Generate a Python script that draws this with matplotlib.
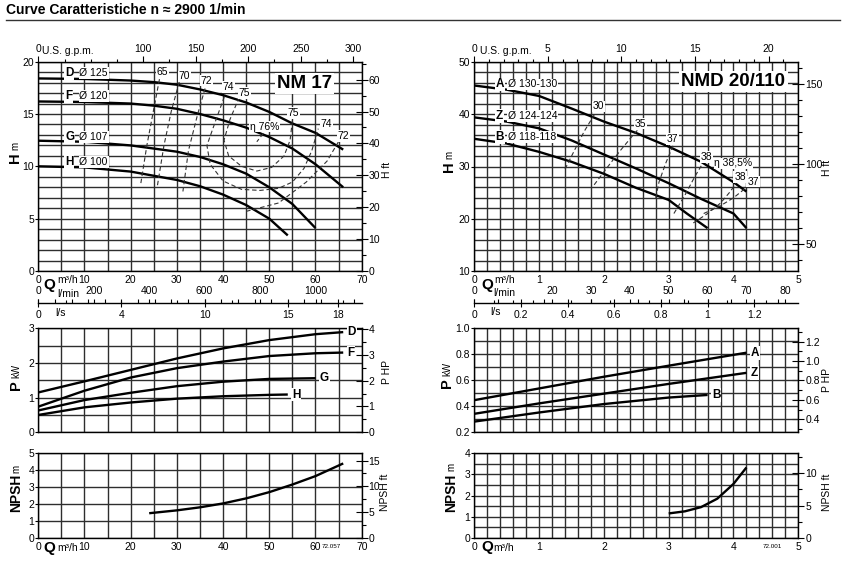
import numpy as np
import matplotlib.pyplot as plt
from matplotlib.ticker import MultipleLocator, FixedLocator

plt.rcParams['font.family'] = ['Liberation Sans', 'DejaVu Sans']
plt.rcParams['font.size'] = 7.5

W, H = 844, 564
GPM = 4.4029      # US gpm per m3/h
FT = 3.2808       # ft per m
HP = 1.341        # HP per kW

# ---------------- NM 17 (left) ----------------
nm_heads = ['D', 'F', 'G', 'H']
nm_diam = ['Ø 125', 'Ø 120', 'Ø 107', 'Ø 100']
nm_q = {
    'D': [0, 10, 20, 25, 30, 35, 40, 45, 50, 55, 60, 66],
    'F': [0, 10, 20, 25, 30, 35, 40, 45, 50, 55, 60, 66],
    'G': [0, 10, 20, 30, 35, 40, 45, 50, 55, 60],
    'H': [0, 10, 20, 30, 35, 40, 45, 50, 54],
}
nm_h = {
    'D': [18.4, 18.35, 18.2, 18.05, 17.8, 17.35, 16.8, 16.1, 15.2, 14.1, 13.2, 11.6],
    'F': [16.2, 16.15, 16.0, 15.8, 15.5, 15.0, 14.4, 13.7, 12.8, 11.7, 10.2, 8.0],
    'G': [12.45, 12.35, 12.0, 11.4, 10.9, 10.2, 9.3, 8.0, 6.4, 4.1],
    'H': [10.0, 9.9, 9.5, 8.7, 8.1, 7.3, 6.3, 5.0, 3.4],
}
nm_pq = {
    'D': [0, 10, 20, 30, 40, 50, 60, 66],
    'F': [0, 10, 20, 30, 40, 50, 60, 66],
    'G': [0, 10, 20, 30, 40, 50, 60],
    'H': [0, 10, 20, 30, 40, 50, 54],
}
nm_p = {
    'D': [1.15, 1.47, 1.8, 2.13, 2.42, 2.66, 2.83, 2.89],
    'F': [0.74, 1.2, 1.58, 1.85, 2.04, 2.2, 2.28, 2.3],
    'G': [0.63, 0.93, 1.14, 1.33, 1.46, 1.54, 1.56],
    'H': [0.5, 0.72, 0.86, 0.97, 1.04, 1.08, 1.09],
}
nm_npsh_q = [24, 30, 35, 40, 45, 50, 55, 60, 66]
nm_npsh = [1.45, 1.62, 1.8, 2.03, 2.33, 2.7, 3.15, 3.65, 4.4]

# iso-efficiency lines (Q, H)
nm_eta = [
    ([22.2, 23.5, 25.0, 26.3], [8.4, 12.0, 15.5, 18.5]),
    ([25.8, 27.2, 28.8, 30.6], [8.2, 12.0, 15.3, 18.2]),
    ([31.3, 32.5, 34.5, 36.4], [7.6, 11.5, 15.0, 17.9]),
    ([45.0, 52, 58, 62.5, 65.3], [5.7, 6.5, 8.5, 10.5, 12.6]),
    ([40.8, 38.5, 36.5, 37.2, 40, 44, 48, 52, 55, 57.5, 59.2, 60.6],
     [17.3, 14.5, 12.0, 10.2, 8.6, 7.8, 7.7, 7.9, 8.5, 9.8, 11.5, 13.6]),
    ([43.5, 41.5, 40.2, 41.2, 44, 47.3, 50.5, 53.2, 54.5, 55.0],
     [16.6, 14.5, 12.5, 11.0, 10.0, 9.55, 9.9, 11.0, 12.5, 14.4]),
    ([48.7, 47.3], [13.15, 12.35]),
]
nm_eta_labels = [('65', 26.9, 19.0), ('70', 31.6, 18.6), ('72', 36.4, 18.2),
                 ('74', 41.2, 17.6), ('75', 44.6, 17.0), ('η 76%', 49.0, 13.8),
                 ('75', 55.2, 15.1), ('74', 62.4, 14.0), ('72', 66.0, 12.9)]

# ---------------- NMD 20/110 (right) ----------------
nmd_heads = ['A', 'Z', 'B']
nmd_diam = ['Ø 130-130', 'Ø 124-124', 'Ø 118-118']
nmd_q = {
    'A': [0, 0.5, 1.0, 1.5, 2.0, 2.5, 3.0, 3.5, 4.0, 4.2],
    'Z': [0, 0.5, 1.0, 1.5, 2.0, 2.5, 3.0, 3.5, 4.0, 4.2],
    'B': [0, 0.5, 1.0, 1.5, 2.0, 2.5, 3.0, 3.28, 3.6],
}
nmd_h = {
    'A': [45.5, 44.7, 43.5, 41.1, 38.6, 36.4, 33.8, 30.9, 27.0, 25.2],
    'Z': [39.4, 38.6, 37.3, 35.0, 32.3, 29.6, 26.8, 23.8, 21.0, 18.2],
    'B': [35.3, 34.4, 32.8, 30.9, 28.6, 25.9, 23.6, 21.0, 18.2],
}
nmd_pq = {
    'A': [0, 1, 2, 3, 4.2],
    'Z': [0, 1, 2, 3, 4.2],
    'B': [0, 1, 2, 3, 3.6],
}
nmd_p = {
    'A': [0.445, 0.535, 0.625, 0.71, 0.81],
    'Z': [0.34, 0.42, 0.495, 0.57, 0.655],
    'B': [0.28, 0.35, 0.415, 0.465, 0.485],
}
nmd_npsh_q = [3.0, 3.25, 3.5, 3.75, 4.0, 4.2]
nmd_npsh = [1.15, 1.25, 1.45, 1.85, 2.55, 3.33]

nmd_eta = [
    ([1.4, 1.55, 1.7, 1.87], [29.5, 33.2, 36.8, 40.3]),
    ([1.85, 2.05, 2.25, 2.45, 2.58], [26.5, 29.8, 33.0, 36.0, 37.8]),
    ([2.8, 2.85, 2.95, 3.05, 3.1], [24.0, 27.0, 30.5, 33.5, 35.0]),
    ([3.08, 3.25, 3.4, 3.52], [21.0, 24.5, 28.0, 30.5]),
    ([3.38, 3.6, 3.8, 3.95, 4.05], [19.2, 21.0, 23.0, 25.2, 27.0]),
    ([4.0, 4.0], [27.2, 28.6]),
    ([3.54, 3.8, 4.0, 4.18], [21.0, 22.5, 24.0, 25.8]),
]
nmd_eta_labels = [('30', 1.92, 41.5), ('35', 2.56, 38.2), ('37', 3.06, 35.2),
                  ('38', 3.58, 31.8), ('η 38,5%', 4.0, 30.6),
                  ('38', 4.1, 28.0), ('37', 4.3, 27.1)]

fig = plt.figure(figsize=(W / 100, H / 100), dpi=100)
GRID = '#2e2e2e'
CURVE = dict(color='black', lw=1.7, solid_capstyle='butt')
DASH = dict(color='#333333', lw=0.8, ls=(0, (4, 2.5)))
WHITE = dict(facecolor='white', edgecolor='none', pad=0.6)


def rect(x0, y0, x1, y1):
    return [x0 / W, 1 - y1 / H, (x1 - x0) / W, (y1 - y0) / H]


def ptext(x, y, s, **kw):
    fig.text(x / W, 1 - y / H, s, **kw)


def panel(r, xlim, ylim, xgrid, ygrid, xmajor, ymajor):
    ax = fig.add_axes(r)
    ax.set_xlim(xlim)
    ax.set_ylim(ylim)
    ax.xaxis.set_major_locator(FixedLocator(xmajor))
    ax.yaxis.set_major_locator(FixedLocator(ymajor))
    ax.xaxis.set_minor_locator(MultipleLocator(xgrid))
    ax.yaxis.set_minor_locator(MultipleLocator(ygrid))
    ax.grid(which='both', color=GRID, lw=1.0)
    ax.set_axisbelow(True)
    ax.tick_params(which='minor', length=0)
    ax.tick_params(which='major', length=2, width=0.8, pad=1)
    ax.tick_params(axis='x', which='major', length=0, pad=3)
    for s in ax.spines.values():
        s.set_linewidth(1.0)
    return ax


def right_axis(ax, factor, major, minor, labels=None):
    sec = ax.secondary_yaxis('right', functions=(lambda v: v * factor, lambda v: v / factor))
    sec.yaxis.set_major_locator(FixedLocator(major))
    sec.yaxis.set_minor_locator(FixedLocator(minor))
    if labels is not None:
        sec.set_yticklabels(labels)
    sec.tick_params(which='major', direction='inout', length=8, width=0.8, pad=1)
    sec.tick_params(which='minor', direction='out', length=3, width=0.8)
    sec.spines['right'].set_visible(False)
    return sec


def top_axis(ax, major, minor, labels):
    sec = ax.secondary_xaxis('top', functions=(lambda q: q * GPM, lambda g: g / GPM))
    sec.xaxis.set_major_locator(FixedLocator(major))
    sec.xaxis.set_minor_locator(FixedLocator(minor))
    sec.set_xticklabels(labels)
    sec.tick_params(which='major', direction='out', length=4, width=0.8, pad=1.5)
    sec.tick_params(which='minor', direction='out', length=2.5, width=0.8)
    sec.spines['top'].set_visible(False)
    return sec


def flow_scale(x0, x1, qmax, ls_major, ls_labels, ls_minor, lmin_major, lmin_labels, lmin_minor):
    a = fig.add_axes(rect(x0, 302.8, x1, 303.2))
    a.set_xlim(0, qmax / 3.6)
    a.set_yticks([])
    for k in ('top', 'left', 'right'):
        a.spines[k].set_visible(False)
    a.spines['bottom'].set_linewidth(1.0)
    a.xaxis.set_major_locator(FixedLocator(ls_major))
    a.xaxis.set_minor_locator(FixedLocator(ls_minor))
    a.set_xticklabels(ls_labels)
    a.tick_params(which='major', direction='inout', length=6, width=0.8, pad=2)
    a.tick_params(which='minor', direction='in', length=3, width=0.8)
    s = a.secondary_xaxis('top', functions=(lambda v: v * 60, lambda v: v / 60))
    s.spines['top'].set_visible(False)
    s.xaxis.set_major_locator(FixedLocator(lmin_major))
    s.xaxis.set_minor_locator(FixedLocator(lmin_minor))
    s.set_xticklabels(lmin_labels)
    s.tick_params(which='major', direction='out', length=3, width=0.8, pad=2)
    s.tick_params(which='minor', direction='out', length=2, width=0.8)
    return a


def ylabel(x, y_big, big, y_small, small, size=10.5):
    ptext(x, y_big, big, rotation=90, ha='center', va='center', fontsize=size, fontweight='bold')
    ptext(x, y_small, small, rotation=90, ha='center', va='center', fontsize=7)


# title
ptext(6, 10, 'Curve Caratteristiche n ≈ 2900 1/min', fontsize=10, fontweight='bold', va='center')
fig.add_artist(plt.Line2D([6 / W, 840 / W], [1 - 20 / H, 1 - 20 / H], color='#333333', lw=1.0))

# ================= LEFT =================
LX0, LX1 = 38.3, 361.7
axh = panel(rect(LX0, 61.7, LX1, 271), (0, 70), (0, 20), 5, 1, range(0, 71, 10), range(0, 21, 5))
for k in nm_heads:
    axh.plot(nm_q[k], nm_h[k], **CURVE)
for q, h in nm_eta:
    axh.plot(q, h, **DASH)
for s, q, h in nm_eta_labels:
    axh.text(q, h, s, ha='center', va='center', fontsize=7.5, bbox=WHITE)
for k, d, h in zip(nm_heads, nm_diam, [18.95, 16.7, 12.8, 10.4]):
    axh.text(5.8, h, k, ha='left', va='center', fontsize=8.5, fontweight='bold', bbox=WHITE)
    axh.text(8.9, h, d, ha='left', va='center', fontsize=7.5, bbox=WHITE)
axh.text(57.7, 17.9, 'NM 17', ha='center', va='center', fontsize=13.5, fontweight='bold',
         bbox=dict(facecolor='white', edgecolor='none', pad=1.5))
top_axis(axh, [0, 100, 150, 200, 250, 300], np.arange(0, 301, 25),
         ['0', '100', '150', '200', '250', '300'])
right_axis(axh, FT, range(0, 61, 10), range(5, 66, 10))
flow_scale(LX0, LX1, 70, [0, 5, 10, 15, 18], ['0', '4', '10', '15', '18'], np.arange(0, 19.4, 1),
           [0, 200, 400, 600, 800, 1000], ['0', '200', '400', '600', '800', '1000'],
           np.arange(0, 1160, 100))
ptext(68, 51, 'U.S. g.p.m.', ha='center', va='center', fontsize=7.5)
ptext(49, 285, 'Q', ha='center', va='center', fontsize=11, fontweight='bold')
ptext(68, 280, 'm³/h', ha='center', va='center', fontsize=7.5)
ptext(68, 294, 'l/min', ha='center', va='center', fontsize=7.5)
ptext(60, 313, 'l/s', ha='center', va='center', fontsize=7.5)
ylabel(15, 158, 'H', 146, 'm')
ptext(387, 170, 'H ft', rotation=90, ha='center', va='center', fontsize=7.5)

axp = panel(rect(LX0, 328.3, LX1, 432.3), (0, 70), (0, 3), 5, 0.5, range(0, 71, 10), range(0, 4))
axp.tick_params(axis='x', labelbottom=False)
for k in nm_heads:
    axp.plot(nm_pq[k], nm_p[k], **CURVE)
    axp.text(nm_pq[k][-1] + 0.9, nm_p[k][-1], k, ha='left', va='center', fontsize=8.5,
             fontweight='bold', bbox=WHITE)
right_axis(axp, HP, range(0, 5), np.arange(0.5, 4.1, 1))
ylabel(16, 385, 'P', 371, 'kW')
ptext(387, 372, 'P HP', rotation=90, ha='center', va='center', fontsize=7.5)

axn = panel(rect(LX0, 453.3, LX1, 537.7), (0, 70), (0, 5), 5, 1, range(0, 71, 10), range(0, 6))
axn.plot(nm_npsh_q, nm_npsh, **CURVE)
right_axis(axn, FT, [0, 5, 10, 15], [2.5, 7.5, 12.5])
axn.text(63.5, -0.55, '72.057', fontsize=4.5, ha='center', va='center')
ptext(49, 548, 'Q', ha='center', va='center', fontsize=11, fontweight='bold')
ptext(68, 548, 'm³/h', ha='center', va='center', fontsize=7.5)
ylabel(16, 493, 'NPSH', 469, 'm', size=10)
ptext(385, 492, 'NPSH ft', rotation=90, ha='center', va='center', fontsize=7.5)

# ================= RIGHT =================
RX0, RX1 = 474.3, 798.3
bxh = panel(rect(RX0, 62, RX1, 271), (0, 5), (10, 50), 0.2, 2, range(0, 6), range(10, 51, 10))
for k in nmd_heads:
    bxh.plot(nmd_q[k], nmd_h[k], **CURVE)
for q, h in nmd_eta:
    bxh.plot(q, h, **DASH)
for s, q, h in nmd_eta_labels:
    bxh.text(q, h, s, ha='center', va='center', fontsize=7.5, bbox=WHITE)
for k, d, h in zip(nmd_heads, nmd_diam, [45.7, 39.7, 35.7]):
    bxh.text(0.33, h, k, ha='left', va='center', fontsize=8.5, fontweight='bold', bbox=WHITE)
    bxh.text(0.52, h, d, ha='left', va='center', fontsize=7.5, bbox=WHITE)
bxh.text(4.0, 46.2, 'NMD 20/110', ha='center', va='center', fontsize=13.5, fontweight='bold',
         bbox=dict(facecolor='white', edgecolor='none', pad=1.5))
top_axis(bxh, [0, 5, 10, 15, 20], np.arange(0, 22, 1), ['0', '5', '10', '15', '20'])
right_axis(bxh, FT, [50, 100, 150], range(40, 161, 10))
flow_scale(RX0, RX1, 5, [0, 0.2, 0.4, 0.6, 0.8, 1.0, 1.2], ['0', '0.2', '0.4', '0.6', '0.8', '1', '1.2'],
           np.arange(0, 1.39, 0.1),
           [0, 20, 30, 40, 50, 60, 70, 80], ['0', '20', '30', '40', '50', '60', '70', '80'],
           np.arange(0, 83, 5))
ptext(506, 51, 'U.S. g.p.m.', ha='center', va='center', fontsize=7.5)
ptext(487, 285, 'Q', ha='center', va='center', fontsize=11, fontweight='bold')
ptext(505, 280, 'm³/h', ha='center', va='center', fontsize=7.5)
ptext(504, 293, 'l/min', ha='center', va='center', fontsize=7.5)
ptext(496, 312, 'l/s', ha='center', va='center', fontsize=7.5)
ylabel(449, 167, 'H', 155, 'm')
ptext(827, 168, 'H ft', rotation=90, ha='center', va='center', fontsize=7.5)

bxp = panel(rect(RX0, 328, RX1, 432), (0, 5), (0.2, 1.0), 0.2, 0.1, range(0, 6),
            [0.2, 0.4, 0.6, 0.8, 1.0])
bxp.set_yticklabels(['0.2', '0.4', '0.6', '0.8', '1.0'])
bxp.tick_params(axis='x', labelbottom=False)
for k in nmd_heads:
    bxp.plot(nmd_pq[k], nmd_p[k], **CURVE)
    bxp.text(nmd_pq[k][-1] + 0.07, nmd_p[k][-1], k, ha='left', va='center', fontsize=8.5,
             fontweight='bold', bbox=WHITE)
right_axis(bxp, HP, [0.4, 0.6, 0.8, 1.0, 1.2], [0.3, 0.5, 0.7, 0.9, 1.1, 1.3],
           ['0.4', '0.6', '0.8', '1.0', '1.2'])
ylabel(447, 383, 'P', 369, 'kW')
ptext(827, 380, 'P HP', rotation=90, ha='center', va='center', fontsize=7.5)

bxn = panel(rect(RX0, 453.3, RX1, 537.7), (0, 5), (0, 4), 0.2, 0.5, range(0, 6), range(0, 5))
bxn.plot(nmd_npsh_q, nmd_npsh, **CURVE)
right_axis(bxn, FT, [0, 5, 10], [2.5, 7.5, 12.5])
bxn.text(4.6, -0.4, '72.001', fontsize=4.5, ha='center', va='center')
ptext(487, 547, 'Q', ha='center', va='center', fontsize=11, fontweight='bold')
ptext(504, 548, 'm³/h', ha='center', va='center', fontsize=7.5)
ylabel(451, 493, 'NPSH', 467, 'm', size=10)
ptext(827, 492, 'NPSH ft', rotation=90, ha='center', va='center', fontsize=7.5)

fig.savefig('out.png', dpi=100)
